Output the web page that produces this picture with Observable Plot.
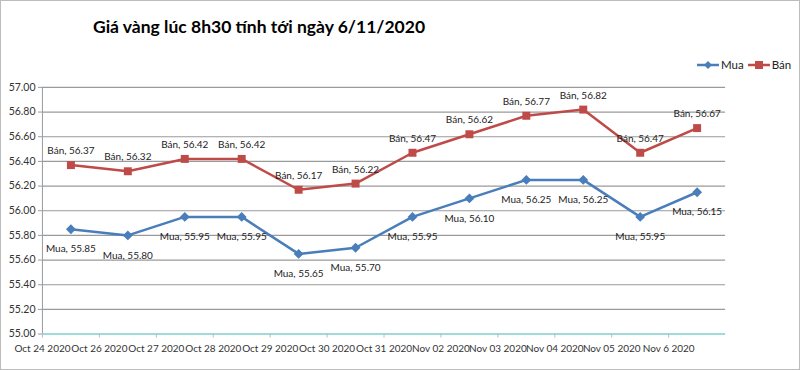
<!DOCTYPE html>
<html><head><meta charset="utf-8">
<script src="https://cdn.jsdelivr.net/npm/d3@7"></script>
<script src="https://cdn.jsdelivr.net/npm/@observablehq/plot@0.6"></script>
<style>
body{margin:0;background:#fff;}
#wrap{position:relative;width:800px;height:370px;box-sizing:border-box;border:1px solid #bdbdbd;font-family:Lato,"Open Sans",sans-serif;overflow:hidden;background:#fff;}
#title{position:absolute;left:92px;top:15px;font-size:17.5px;font-weight:bold;color:#000;white-space:nowrap;}
#legend{position:absolute;left:696px;top:57px;font-size:11.5px;color:#222;display:flex;align-items:center;white-space:nowrap;}
#legend .item{display:flex;align-items:center;margin-right:4px;}
#legend svg{display:block;}
#chart{position:absolute;left:-1px;top:-1px;}
</style>
</head><body>
<div id="wrap">
  <div id="title">Giá vàng lúc 8h30 tính tới ngày 6/11/2020</div>
  <div id="legend"></div>
  <div id="chart"></div>
</div>
<script>
const dates = ["Oct 24 2020","Oct 26 2020","Oct 27 2020","Oct 28 2020","Oct 29 2020","Oct 30 2020","Oct 31 2020","Nov 02 2020","Nov 03 2020","Nov 04 2020","Nov 05 2020","Nov 6 2020"];
const mua = [55.85,55.80,55.95,55.95,55.65,55.70,55.95,56.10,56.25,56.25,55.95,56.15];
const ban = [56.37,56.32,56.42,56.42,56.17,56.22,56.47,56.62,56.77,56.82,56.47,56.67];
const seriesNames = ["Mua","Bán"];
const yTicks = [55.0,55.2,55.4,55.6,55.8,56.0,56.2,56.4,56.6,56.8,57.0];

const blue = "#4A7EBB", red = "#BE4B48";
const rowsMua = mua.map((v,i)=>({i, v}));
const rowsBan = ban.map((v,i)=>({i, v}));

const chart = Plot.plot({
  width: 800, height: 370,
  marginLeft: 42, marginRight: 74, marginTop: 87, marginBottom: 36,
  style: {fontFamily: "Lato, 'Open Sans', sans-serif", fontSize: "10px", color: "#333", background: "transparent"},
  x: {type: "linear", domain: [0, 12]},
  y: {domain: [55, 57]},
  marks: [
    Plot.ruleY(yTicks.slice(1), {stroke: "#9a9a9a", strokeWidth: 1.2}),
    Plot.ruleY([55], {stroke: "#7ccfd2", strokeWidth: 1.5}),
    Plot.ruleX([0], {stroke: "#9a9a9a", strokeWidth: 1}),
    Plot.axisY({ticks: yTicks, tickFormat: d => d.toFixed(2), tickSize: 4, tickPadding: 3, stroke: "#9a9a9a", fill: "#333", fontSize: 10.5, label: null}),
    Plot.axisX({ticks: d3.range(12), tickFormat: i => dates[i], tickSize: 4, tickPadding: 7, stroke: "#bbb", fill: "#333", fontSize: 10, label: null}),
    Plot.line(rowsBan, {x: d => d.i + 0.5, y: "v", stroke: red, strokeWidth: 2.5}),
    Plot.line(rowsMua, {x: d => d.i + 0.5, y: "v", stroke: blue, strokeWidth: 2.5}),
    Plot.dot(rowsBan, {x: d => d.i + 0.5, y: "v", symbol: "square", fill: red, r: 4.5}),
    Plot.dot(rowsMua, {x: d => d.i + 0.5, y: "v", symbol: "diamond2", fill: blue, stroke: blue, r: 3.5}),
    Plot.text(rowsBan, {x: d => d.i + 0.5, y: "v", text: d => `${seriesNames[1]}, ${d.v.toFixed(2)}`, dy: -14, fill: "#222", fontSize: 10}),
    Plot.text(rowsMua, {x: d => d.i + 0.5, y: "v", text: d => `${seriesNames[0]}, ${d.v.toFixed(2)}`, dy: 20, fill: "#222", fontSize: 10})
  ]
});
document.getElementById("chart").appendChild(chart);

// legend
const leg = document.getElementById("legend");
const colors = [blue, red];
seriesNames.forEach((name, k) => {
  const item = document.createElement("div");
  item.className = "item";
  const shape = k === 0
    ? `<path d="M11,1 L15,5 L11,9 L7,5 Z" fill="${blue}"/>`
    : `<rect x="7" y="1" width="8" height="8" fill="${red}"/>`;
  item.innerHTML = `<svg width="22" height="10"><line x1="0" y1="5" x2="22" y2="5" stroke="${colors[k]}" stroke-width="2.5"/>${shape}</svg><span style="margin-left:2px">${name}</span>`;
  leg.appendChild(item);
});
</script>
</body></html>
